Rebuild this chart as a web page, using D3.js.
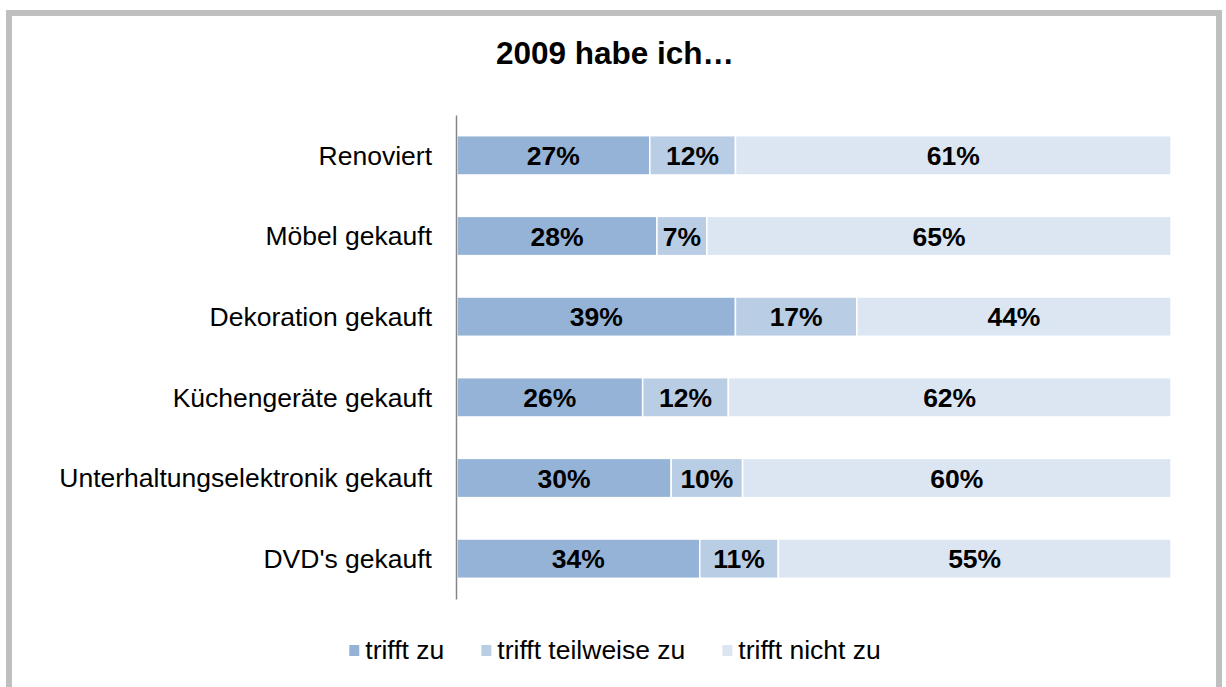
<!DOCTYPE html>
<html>
<head>
<meta charset="utf-8">
<script src="https://cdn.jsdelivr.net/npm/d3@7"></script>
<style>
  html, body { margin: 0; padding: 0; background: #fff; }
  svg { display: block; font-family: "Liberation Sans", Arial, sans-serif; }
</style>
</head>
<body>
<svg id="chart" width="1226" height="687"></svg>
<script>
// Survey answers per activity (percent of respondents)
const categories = [
  "Renoviert",
  "Möbel gekauft",
  "Dekoration gekauft",
  "Küchengeräte gekauft",
  "Unterhaltungselektronik gekauft",
  "DVD's gekauft"
];
const seriesNames = ["trifft zu", "trifft teilweise zu", "trifft nicht zu"];
const triffZu        = [27, 28, 39, 26, 30, 34];
const triffTeilweise = [12, 7, 17, 12, 10, 11];
const triffNicht     = [61, 65, 44, 62, 60, 55];
const seriesValues = [triffZu, triffTeilweise, triffNicht];
const colors = ["#95B3D7", "#B9CDE5", "#DCE6F2"];
const titleText = "2009 habe ich…";

const svg = d3.select("#chart");

// Outer frame
svg.append("rect")
  .attr("x", 9).attr("y", 13)
  .attr("width", 1210).attr("height", 700)
  .attr("fill", "#fff")
  .attr("stroke", "#BFBFBF").attr("stroke-width", 6);

// Title
svg.append("text")
  .attr("x", 615).attr("y", 64)
  .attr("text-anchor", "middle")
  .attr("font-size", 31.5).attr("font-weight", "bold")
  .attr("fill", "#000")
  .text(titleText);

const x = d3.scaleLinear().domain([0, 100]).range([457, 1171]);
const y = d3.scaleBand().domain(categories).range([115, 599])
  .paddingInner(0.513).paddingOuter(0.2565);

// Build stacked rows
const rows = categories.map((c, i) => {
  const o = { cat: c };
  seriesNames.forEach((s, j) => { o[s] = seriesValues[j][i]; });
  return o;
});
const stacked = d3.stack().keys(seriesNames)(rows);

const layers = svg.append("g").selectAll("g")
  .data(stacked).join("g")
  .attr("fill", (d, i) => colors[i]);

layers.selectAll("rect")
  .data(d => d).join("rect")
  .attr("x", d => x(d[0]))
  .attr("y", d => y(d.data.cat))
  .attr("width", d => x(d[1]) - x(d[0]))
  .attr("height", y.bandwidth())
  .attr("stroke", "#fff").attr("stroke-width", 1.5);

// Value labels inside the segments
layers.selectAll("text")
  .data(d => d.map(v => ({ v, key: d.key }))).join("text")
  .attr("x", d => (x(d.v[0]) + x(d.v[1])) / 2)
  .attr("y", d => y(d.v.data.cat) + y.bandwidth() / 2 + 9.5)
  .attr("text-anchor", "middle")
  .attr("font-size", 26.5).attr("font-weight", "bold")
  .attr("fill", "#000")
  .text(d => d.v.data[d.key] + "%");

// Category axis
const axis = svg.append("g")
  .attr("transform", "translate(456,0)")
  .call(d3.axisLeft(y).tickSize(0).tickPadding(24));
axis.select(".domain").attr("stroke", "#868686").attr("stroke-width", 1.5);
axis.selectAll("text")
  .attr("font-size", 26.5)
  .attr("font-family", "Liberation Sans, Arial, sans-serif")
  .attr("fill", "#000")
  .attr("dy", "0.35em");

// Legend, centred below the plot
const swatch = 10, swatchGap = 6, entryGap = 37;
const legend = svg.append("g");
const items = legend.selectAll("g").data(seriesNames).join("g");
items.append("rect")
  .attr("y", 645)
  .attr("width", swatch).attr("height", swatch + 1)
  .attr("fill", (d, i) => colors[i]);
items.append("text")
  .attr("x", swatch + swatchGap).attr("y", 659)
  .attr("font-size", 26.5)
  .attr("fill", "#000")
  .text(d => d);
const widths = [];
items.each(function () {
  widths.push(swatch + swatchGap + d3.select(this).select("text").node().getComputedTextLength());
});
const total = d3.sum(widths) + entryGap * (widths.length - 1);
let cursor = 615 - total / 2;
items.attr("transform", (d, i) => {
  const t = `translate(${cursor},0)`;
  cursor += widths[i] + entryGap;
  return t;
});
</script>
</body>
</html>
